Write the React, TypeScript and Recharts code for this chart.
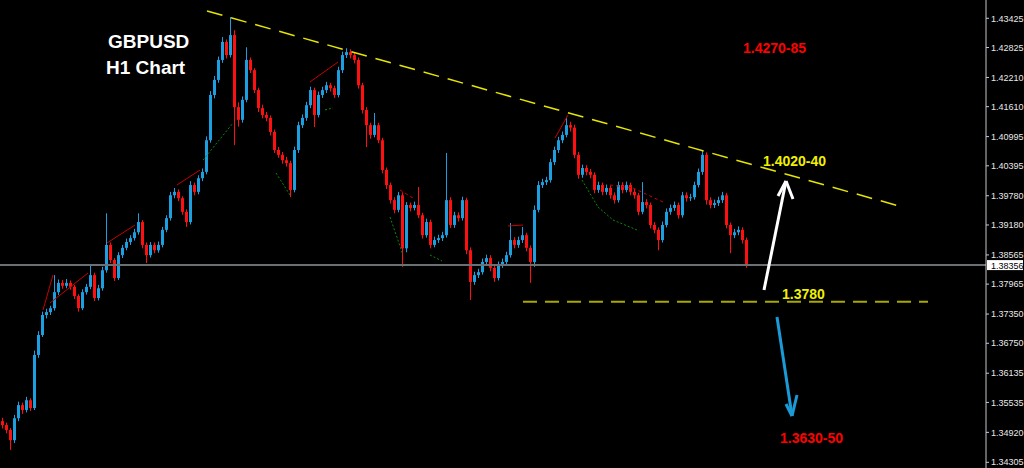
import { Bar, ComposedChart, ReferenceLine, XAxis, YAxis } from "recharts";

// GBPUSD H1 candles (oldest first)
const opens = [
  1.3515, 1.3507, 1.3497, 1.3476, 1.3521, 1.3548, 1.3538, 1.3558, 1.3542, 1.3651,
  1.3692, 1.3733, 1.3739, 1.3747, 1.378, 1.3799, 1.3793, 1.3799, 1.3791, 1.3772,
  1.3747, 1.378, 1.3791, 1.3815, 1.3768, 1.3788, 1.3825, 1.3877, 1.3846, 1.3809,
  1.3856, 1.3871, 1.3883, 1.3891, 1.3903, 1.3924, 1.3877, 1.3856, 1.3877, 1.3866,
  1.3877, 1.3908, 1.3932, 1.3979, 1.3986, 1.3973, 1.3945, 1.3924, 1.4, 1.3986,
  1.4014, 1.4027, 1.4092, 1.4185, 1.4216, 1.4257, 1.4294, 1.4267, 1.4308, 1.416,
  1.4134, 1.4175, 1.4257, 1.4236, 1.4195, 1.4158, 1.4144, 1.4138, 1.4109, 1.4072,
  1.4062, 1.4051, 1.4045, 1.399, 1.4072, 1.4123, 1.4138, 1.4164, 1.4195, 1.4144,
  1.4185, 1.4195, 1.4205, 1.4199, 1.4185, 1.4236, 1.4267, 1.4273, 1.4267, 1.4257,
  1.4205, 1.4154, 1.4123, 1.4103, 1.4123, 1.4092, 1.4031, 1.4, 1.3969, 1.3949,
  1.3979, 1.387, 1.3959, 1.3953, 1.3959, 1.3938, 1.3897, 1.3924, 1.3877, 1.3887,
  1.3891, 1.3897, 1.3969, 1.3918, 1.3938, 1.3932, 1.3969, 1.3866, 1.3801, 1.3815,
  1.3821, 1.3842, 1.385, 1.383, 1.3809, 1.3836, 1.3842, 1.3856, 1.3887, 1.3877,
  1.3887, 1.3897, 1.3871, 1.3842, 1.3949, 1.4, 1.4006, 1.401, 1.4047, 1.4072,
  1.4092, 1.4103, 1.4123, 1.4118, 1.4062, 1.4021, 1.4035, 1.4027, 1.4021, 1.399,
  1.4, 1.3986, 1.3994, 1.3979, 1.3969, 1.4, 1.399, 1.4, 1.3986, 1.3979,
  1.3945, 1.3965, 1.3959, 1.3918, 1.3908, 1.3887, 1.3918, 1.3945, 1.3953, 1.3959,
  1.3938, 1.3979, 1.3973, 1.3975, 1.4, 1.4027, 1.4062, 1.3969, 1.3959, 1.3963,
  1.3969, 1.3979, 1.3918, 1.3897, 1.3903, 1.3908, 1.3887,
];
const highs = [
  1.3522, 1.3512, 1.3501, 1.3528, 1.3555, 1.3553, 1.3565, 1.3562, 1.366, 1.37,
  1.374, 1.3746, 1.3752, 1.3815, 1.3806, 1.3805, 1.3807, 1.3804, 1.3795, 1.3776,
  1.3786, 1.3797, 1.3836, 1.382, 1.3795, 1.3832, 1.3942, 1.3882, 1.385, 1.3862,
  1.3877, 1.389, 1.3897, 1.391, 1.3942, 1.3928, 1.3882, 1.3883, 1.3882, 1.3884,
  1.3914, 1.3938, 1.3986, 1.3994, 1.3991, 1.3977, 1.395, 1.4008, 1.4005, 1.402,
  1.4034, 1.41, 1.4193, 1.4224, 1.4264, 1.4304, 1.4299, 1.4345, 1.4318, 1.417,
  1.4182, 1.4283, 1.4262, 1.424, 1.42, 1.4165, 1.415, 1.4143, 1.4114, 1.4078,
  1.4068, 1.4058, 1.405, 1.4079, 1.413, 1.4145, 1.4171, 1.4202, 1.42, 1.4192,
  1.4202, 1.4212, 1.421, 1.4204, 1.4243, 1.4274, 1.4281, 1.4279, 1.4272, 1.4262,
  1.421, 1.416, 1.4128, 1.4148, 1.4128, 1.4097, 1.4036, 1.4005, 1.3975, 1.3986,
  1.3985, 1.3965, 1.3964, 1.3966, 1.3996, 1.3943, 1.3931, 1.3929, 1.3894, 1.3898,
  1.3904, 1.4066, 1.3975, 1.3945, 1.3944, 1.3976, 1.3974, 1.3872, 1.3822, 1.3828,
  1.3849, 1.3857, 1.3856, 1.3835, 1.3843, 1.3849, 1.3863, 1.3922, 1.3893, 1.3894,
  1.3914, 1.3902, 1.3876, 1.3958, 1.4008, 1.4013, 1.4017, 1.4054, 1.4079, 1.4099,
  1.411, 1.414, 1.413, 1.4124, 1.4068, 1.4042, 1.4041, 1.4033, 1.4026, 1.4007,
  1.4005, 1.4001, 1.3999, 1.3985, 1.4007, 1.4006, 1.4007, 1.4005, 1.3992, 1.3984,
  1.4006, 1.3971, 1.3964, 1.3924, 1.3913, 1.3925, 1.3952, 1.396, 1.3966, 1.3964,
  1.3986, 1.3985, 1.3982, 1.4007, 1.4034, 1.4072, 1.4067, 1.3975, 1.397, 1.3976,
  1.3986, 1.3984, 1.3923, 1.391, 1.3915, 1.3913, 1.3892,
];
const lows = [
  1.35, 1.349, 1.3456, 1.347, 1.3515, 1.353, 1.3533, 1.3536, 1.3538, 1.3645,
  1.3688, 1.3726, 1.3733, 1.3742, 1.3774, 1.3787, 1.3788, 1.3785, 1.3766, 1.374,
  1.3743, 1.3775, 1.3786, 1.3762, 1.3763, 1.3783, 1.382, 1.384, 1.3803, 1.3805,
  1.385, 1.3866, 1.3877, 1.3886, 1.3898, 1.387, 1.384, 1.3851, 1.386, 1.3861,
  1.3872, 1.3903, 1.3927, 1.3973, 1.3967, 1.3939, 1.3914, 1.3919, 1.3979, 1.3981,
  1.4008, 1.4022, 1.4087, 1.4178, 1.421, 1.4251, 1.426, 1.4262, 1.4082, 1.412,
  1.4128, 1.417, 1.423, 1.4189, 1.415, 1.4137, 1.4131, 1.4102, 1.4066, 1.4056,
  1.4044, 1.4038, 1.3975, 1.3985, 1.4066, 1.4117, 1.4132, 1.4158, 1.4119, 1.4139,
  1.4179, 1.4189, 1.4192, 1.4179, 1.418, 1.423, 1.4261, 1.426, 1.425, 1.4198,
  1.4147, 1.4078, 1.4095, 1.4098, 1.4086, 1.4024, 1.3992, 1.3962, 1.3942, 1.3944,
  1.3832, 1.3862, 1.3946, 1.3948, 1.3932, 1.389, 1.3892, 1.387, 1.3872, 1.3881,
  1.3885, 1.3892, 1.3912, 1.3912, 1.3925, 1.3927, 1.3858, 1.3764, 1.3795, 1.3809,
  1.3816, 1.3836, 1.3823, 1.3801, 1.3804, 1.383, 1.3837, 1.3851, 1.387, 1.3871,
  1.3881, 1.3864, 1.3799, 1.3832, 1.3944, 1.3994, 1.4, 1.4005, 1.4041, 1.4066,
  1.4086, 1.4098, 1.411, 1.4055, 1.4013, 1.4015, 1.402, 1.4014, 1.3983, 1.3984,
  1.3979, 1.398, 1.3972, 1.3962, 1.3964, 1.3983, 1.3985, 1.3979, 1.3972, 1.3938,
  1.394, 1.3952, 1.3911, 1.3901, 1.3866, 1.3882, 1.3913, 1.3939, 1.3947, 1.3931,
  1.3933, 1.3966, 1.3967, 1.397, 1.3995, 1.4021, 1.396, 1.3952, 1.3953, 1.3957,
  1.3963, 1.3911, 1.386, 1.3891, 1.3897, 1.388, 1.383,
];
const closes = [
  1.3507, 1.3497, 1.3476, 1.3521, 1.3548, 1.3538, 1.3558, 1.3542, 1.3651, 1.3692,
  1.3733, 1.3739, 1.3747, 1.378, 1.3799, 1.3793, 1.3799, 1.3791, 1.3772, 1.3747,
  1.378, 1.3791, 1.3815, 1.3768, 1.3788, 1.3825, 1.3877, 1.3846, 1.3809, 1.3856,
  1.3871, 1.3883, 1.3891, 1.3903, 1.3924, 1.3877, 1.3856, 1.3877, 1.3866, 1.3877,
  1.3908, 1.3932, 1.3979, 1.3986, 1.3973, 1.3945, 1.3924, 1.4, 1.3986, 1.4014,
  1.4027, 1.4092, 1.4185, 1.4216, 1.4257, 1.4294, 1.4267, 1.4308, 1.416, 1.4134,
  1.4175, 1.4257, 1.4236, 1.4195, 1.4158, 1.4144, 1.4138, 1.4109, 1.4072, 1.4062,
  1.4051, 1.4045, 1.399, 1.4072, 1.4123, 1.4138, 1.4164, 1.4195, 1.4144, 1.4185,
  1.4195, 1.4205, 1.4199, 1.4185, 1.4236, 1.4267, 1.4273, 1.4267, 1.4257, 1.4205,
  1.4154, 1.4123, 1.4103, 1.4123, 1.4092, 1.4031, 1.4, 1.3969, 1.3949, 1.3979,
  1.387, 1.3959, 1.3953, 1.3959, 1.3938, 1.3897, 1.3924, 1.3877, 1.3887, 1.3891,
  1.3897, 1.3969, 1.3918, 1.3938, 1.3932, 1.3969, 1.3866, 1.3801, 1.3815, 1.3821,
  1.3842, 1.385, 1.383, 1.3809, 1.3836, 1.3842, 1.3856, 1.3887, 1.3877, 1.3887,
  1.3897, 1.3871, 1.3842, 1.3949, 1.4, 1.4006, 1.401, 1.4047, 1.4072, 1.4092,
  1.4103, 1.4123, 1.4118, 1.4062, 1.4021, 1.4035, 1.4027, 1.4021, 1.399, 1.4,
  1.3986, 1.3994, 1.3979, 1.3969, 1.4, 1.399, 1.4, 1.3986, 1.3979, 1.3945,
  1.3965, 1.3959, 1.3918, 1.3908, 1.3887, 1.3918, 1.3945, 1.3953, 1.3959, 1.3938,
  1.3979, 1.3973, 1.3975, 1.4, 1.4027, 1.4062, 1.3969, 1.3959, 1.3963, 1.3969,
  1.3979, 1.3918, 1.3897, 1.3903, 1.3908, 1.3887, 1.3836,
];

const priceTicks = [
  1.43425, 1.42825, 1.4221, 1.4161, 1.40995, 1.40395, 1.3978, 1.3918,
  1.38565, 1.37965, 1.3735, 1.3675, 1.36135, 1.35535, 1.3492, 1.34305,
];
const lastPrice = 1.38356;

// drawn objects, as [bar index, price]
const trendLine = [[51.25, 1.43575], [224.25, 1.3957]];
const supportLine = [[130.25, 1.37604], [231.5, 1.37604]];
const upArrow = [[190.5, 1.37844], [196, 1.40083]];
const upArrowHead = [[194, 1.39775], [196, 1.40083], [197.75, 1.39713]];
const downArrow = [[193.75, 1.3729], [197.5, 1.35256]];
const downArrowHead = [[196, 1.35502], [197.5, 1.35256], [198.75, 1.35687]];
const redZigzags = [
  [[10.25, 1.37433], [12.75, 1.38152]],
  [[12, 1.37577], [21.5, 1.38193]],
  [[26.25, 1.3881], [33.25, 1.39179]],
  [[43.75, 1.40001], [49.5, 1.40309]],
  [[77, 1.42117], [84, 1.42527]],
  [[138.25, 1.40966], [141.5, 1.41439]],
  [[126.5, 1.39159], [130.25, 1.39179]],
];
const redDotted = [
  [[99.5, 1.39898], [102.75, 1.39734]],
  [[152, 1.40001], [157.75, 1.39939]],
  [[157.75, 1.39939], [165.25, 1.39652]],
];
const greenDotted = [
  [[50.25, 1.40514], [57.75, 1.41274]],
  [[68.5, 1.40247], [72, 1.39796]],
  [[80.75, 1.41542], [82.75, 1.41583]],
  [[97, 1.39344], [100.25, 1.38563]],
  [[107, 1.38563], [110, 1.3844]],
  [[145, 1.40104], [149, 1.39549]],
  [[149, 1.39549], [152.75, 1.39282]],
  [[152.75, 1.39282], [158.75, 1.39077]],
];

const candles = closes.map((c, i) => ({
  i,
  open: opens[i],
  high: highs[i],
  low: lows[i],
  close: c,
  range: [lows[i], highs[i]],
}));

const seg = (pts: number[][]) => pts.map(([x, y]) => ({ x, y }));

const Candle = (props: any) => {
  const { x, y, width, height, payload } = props;
  if (y == null || height == null) return null;
  const up = payload.close >= payload.open;
  const color = up ? "#1c9fe0" : "#ff1010";
  const top = Math.min(y, y + height);
  const h = Math.abs(height);
  const k = h / (payload.high - payload.low || 1);
  const bodyTop = top + (payload.high - Math.max(payload.open, payload.close)) * k;
  const bodyH = Math.max(1, Math.abs(payload.open - payload.close) * k);
  const cx = Math.round(x + width / 2);
  return (
    <g>
      <line x1={cx + 0.5} x2={cx + 0.5} y1={top} y2={top + h} stroke={color} strokeWidth={1} />
      <rect x={cx - 1} y={bodyTop} width={3} height={bodyH} fill={color} />
    </g>
  );
};

const PriceTag = (props: any) => {
  const { viewBox } = props;
  if (!viewBox) return null;
  const x = viewBox.x + viewBox.width + 1;
  const y = viewBox.y;
  return (
    <g>
      <rect x={x} y={y - 5} width={36} height={10} fill="#ffffff" />
      <text x={x + 4} y={y + 3.5} fontSize={9} fontFamily="Liberation Sans, Arial" fill="#000">
        {lastPrice.toFixed(5)}
      </text>
    </g>
  );
};

const textStyle = (color: string, size: number, left: number, top: number): any => ({
  position: "absolute",
  left,
  top,
  color,
  fontSize: size,
  lineHeight: `${size}px`,
  fontWeight: 700,
  fontFamily: "'Liberation Sans', Arial, sans-serif",
  whiteSpace: "nowrap",
  pointerEvents: "none",
});

const App = () => {
  return (
    <div style={{ position: "absolute", left: 0, top: 0, width: 1024, height: 468, background: "#000" }}>
      <ComposedChart
        width={1024}
        height={468}
        data={candles}
        margin={{ top: 0, right: 0, bottom: 0, left: 0 }}
      >
        <XAxis dataKey="i" type="number" domain={[-0.5, 246]} hide allowDataOverflow />
        <YAxis
          orientation="right"
          width={38}
          domain={[1.34188, 1.43801]}
          allowDataOverflow
          ticks={priceTicks}
          interval={0}
          tickFormatter={(v) => v.toFixed(5)}
          tick={{ fontSize: 9, fill: "#e8e8e8", fontFamily: "Liberation Sans, Arial" }}
          tickSize={3}
          axisLine={{ stroke: "#c8c8c8" }}
          tickLine={{ stroke: "#c8c8c8" }}
        />
        {greenDotted.map((s, k) => (
          <ReferenceLine key={`g${k}`} segment={seg(s)} stroke="#0a8a0a" strokeDasharray="2 2" />
        ))}
        {redDotted.map((s, k) => (
          <ReferenceLine key={`rd${k}`} segment={seg(s)} stroke="#d00000" strokeDasharray="3 3" />
        ))}
        {redZigzags.map((s, k) => (
          <ReferenceLine key={`r${k}`} segment={seg(s)} stroke="#c80000" />
        ))}
        <ReferenceLine y={lastPrice} stroke="#6b7075" strokeWidth={2} label={<PriceTag />} />
        <Bar dataKey="range" barSize={3} shape={<Candle />} isAnimationActive={false} />
        <ReferenceLine segment={seg(trendLine)} stroke="#e6e600" strokeWidth={1.5} strokeDasharray="16 9" />
        <ReferenceLine segment={seg(supportLine)} stroke="#a8a800" strokeWidth={2} strokeDasharray="14 8" />
        <ReferenceLine segment={seg(upArrow)} stroke="#ffffff" strokeWidth={3} />
        <ReferenceLine segment={seg(upArrowHead.slice(0, 2))} stroke="#ffffff" strokeWidth={3} />
        <ReferenceLine segment={seg(upArrowHead.slice(1))} stroke="#ffffff" strokeWidth={3} />
        <ReferenceLine segment={seg(downArrow)} stroke="#1a9ad6" strokeWidth={3} />
        <ReferenceLine segment={seg(downArrowHead.slice(0, 2))} stroke="#1a9ad6" strokeWidth={3} />
        <ReferenceLine segment={seg(downArrowHead.slice(1))} stroke="#1a9ad6" strokeWidth={3} />
      </ComposedChart>
      <div style={textStyle("#ffffff", 19, 108, 32)}>GBPUSD</div>
      <div style={textStyle("#ffffff", 19, 106, 58)}>H1 Chart</div>
      <div style={textStyle("#ff0000", 14, 743, 41)}>1.4270-85</div>
      <div style={textStyle("#f0f000", 14, 763, 154)}>1.4020-40</div>
      <div style={textStyle("#f0f000", 14, 782, 287)}>1.3780</div>
      <div style={textStyle("#ff0000", 14, 780, 431)}>1.3630-50</div>
    </div>
  );
};

export default App;
